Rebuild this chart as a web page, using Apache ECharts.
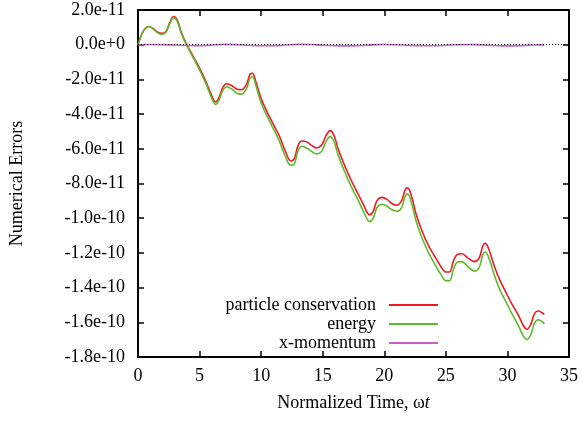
<!DOCTYPE html>
<html>
<head>
<meta charset="utf-8">
<script src="https://cdn.jsdelivr.net/npm/echarts@6/dist/echarts.min.js"></script>
<style>html,body{margin:0;padding:0;background:#fff}#c{width:581px;height:421px}</style>
</head>
<body>
<div id="c"></div>
<script>
// values in units of 1e-11
const UNIT = 1e-11;
const time = [0,0.3,0.6,0.9,1.2,1.6,2.0,2.3,2.6,2.9,3.2,3.5,4.0,4.5,5.0,5.5,6.0,6.3,6.6,6.9,7.2,7.6,8.0,8.4,8.8,9.1,9.3,9.6,10.0,10.5,11.0,11.5,12.0,12.4,12.7,13.0,13.3,13.7,14.1,14.5,14.9,15.3,15.6,15.9,16.3,16.8,17.3,17.8,18.3,18.8,19.1,19.4,19.8,20.2,20.6,21.0,21.4,21.7,21.9,22.2,22.6,23.1,23.6,24.1,24.6,25.0,25.3,25.6,25.9,26.3,26.8,27.3,27.7,28.0,28.2,28.5,28.9,29.4,29.9,30.4,30.9,31.3,31.6,31.9,32.2,32.5,32.8,33.0];
const particle = [0,0.6,0.95,1.05,0.95,0.72,0.65,0.8,1.3,1.62,1.4,0.75,-0.05,-0.7,-1.35,-2.1,-2.95,-3.3,-3.0,-2.45,-2.25,-2.35,-2.55,-2.6,-2.3,-1.7,-1.65,-2.2,-3.1,-3.9,-4.6,-5.3,-6.2,-6.7,-6.55,-5.8,-5.55,-5.6,-5.8,-5.95,-5.8,-5.2,-4.95,-5.2,-6.1,-7.0,-7.8,-8.5,-9.2,-9.8,-9.6,-9.0,-8.8,-8.9,-9.15,-9.25,-9.0,-8.35,-8.25,-8.7,-9.8,-10.8,-11.6,-12.2,-12.8,-13.1,-13.1,-12.5,-12.1,-12.05,-12.3,-12.5,-12.3,-11.6,-11.45,-11.8,-12.7,-13.6,-14.3,-15.0,-15.6,-16.2,-16.4,-16.1,-15.5,-15.35,-15.45,-15.55];
const energy = [0,0.6,0.95,1.05,0.93,0.68,0.6,0.75,1.25,1.55,1.33,0.68,-0.1,-0.78,-1.45,-2.22,-3.1,-3.45,-3.15,-2.62,-2.42,-2.55,-2.78,-2.85,-2.55,-1.92,-1.85,-2.42,-3.35,-4.15,-4.85,-5.6,-6.5,-6.95,-6.85,-6.1,-5.85,-5.95,-6.15,-6.3,-6.15,-5.55,-5.3,-5.55,-6.45,-7.35,-8.15,-8.85,-9.6,-10.2,-10.0,-9.4,-9.2,-9.3,-9.5,-9.6,-9.4,-8.72,-8.6,-9.1,-10.2,-11.2,-12.0,-12.65,-13.25,-13.6,-13.6,-13.0,-12.55,-12.5,-12.8,-13.05,-12.85,-12.1,-11.95,-12.3,-13.2,-14.15,-14.85,-15.55,-16.2,-16.8,-17.0,-16.7,-16.05,-15.85,-15.95,-16.1];
const momTime = [0,1,2,3,4,5,6,7,8,9,10,11,12,13,14,15,16,17,18,19,20,21,22,23,24,25,26,27,28,29,30,31,32,33];
const momentum = [0,0.01,0.0,-0.02,-0.05,-0.06,-0.02,0.02,0.0,-0.03,-0.06,-0.06,-0.02,0.02,0.01,-0.03,-0.06,-0.07,-0.05,-0.01,0.01,0.0,-0.04,-0.06,-0.06,-0.03,0.0,0.01,-0.02,-0.05,-0.07,-0.06,-0.02,-0.01];
const seriesNames = ['particle conservation','energy','x-momentum'];
const colors = ['#ee1a24','#5cbb2a','#c85ec8'];
const xTicks = {min:0,max:35,interval:5};
const yTicks = {min:-18,max:2,interval:2};

const font = 'Liberation Serif';
const pair = (xs, ys) => xs.map((x,i)=>[x, ys[i]]);
function fmtY(v){ const r = v*UNIT; return (Math.abs(r)<1e-20?0:r).toExponential(1); }

const axisLine = {show:true,onZero:false,lineStyle:{color:'#000',width:2}};
const tick = {show:true,inside:true,length:6,lineStyle:{color:'#000',width:1.5}};

const chart = echarts.init(document.getElementById('c'));
chart.setOption({
  animation:false,
  backgroundColor:'#fff',
  grid:{left:137,right:11,top:10,bottom:64,containLabel:false},
  legend:{
    orient:'vertical', align:'right', right:138, top:291,
    itemWidth:49, itemHeight:2, itemGap:1, icon:'rect',
    textStyle:{fontFamily:font,fontSize:18,color:'#000',lineHeight:18,padding:[0,8,0,0]},
    data:seriesNames
  },
  xAxis:[
    {type:'value',min:xTicks.min,max:xTicks.max,interval:xTicks.interval,position:'bottom',
     name:'{n|Normalized Time, ω}{i|t}',nameLocation:'middle',nameGap:37,
     nameTextStyle:{fontFamily:font,fontSize:18,color:'#000',
       rich:{n:{fontFamily:font,fontSize:18,color:'#000'},i:{fontFamily:font,fontSize:18,color:'#000',fontStyle:'italic'}}},
     axisLine:axisLine,axisTick:tick,splitLine:{show:false},
     axisLabel:{fontFamily:font,fontSize:18,color:'#000',margin:10}},
    {type:'value',min:xTicks.min,max:xTicks.max,interval:xTicks.interval,position:'top',
     axisLine:axisLine,axisTick:tick,splitLine:{show:false},axisLabel:{show:false}}
  ],
  yAxis:[
    {type:'value',min:yTicks.min,max:yTicks.max,interval:yTicks.interval,position:'left',
     name:'Numerical Errors',nameLocation:'middle',nameGap:112,
     nameTextStyle:{fontFamily:font,fontSize:18,color:'#000'},
     axisLine:axisLine,axisTick:tick,splitLine:{show:false},
     axisLabel:{fontFamily:font,fontSize:18,color:'#000',margin:13,formatter:fmtY}},
    {type:'value',min:yTicks.min,max:yTicks.max,interval:yTicks.interval,position:'right',
     axisLine:axisLine,axisTick:tick,splitLine:{show:false},axisLabel:{show:false}}
  ],
  series:[
    {name:seriesNames[0],type:'line',data:pair(time,particle),smooth:0.35,symbol:'none',
     lineStyle:{color:colors[0],width:1.6},itemStyle:{color:colors[0]}},
    {name:seriesNames[1],type:'line',data:pair(time,energy),smooth:0.35,symbol:'none',
     lineStyle:{color:colors[1],width:1.6},itemStyle:{color:colors[1]}},
    {name:seriesNames[2],type:'line',data:pair(momTime,momentum),smooth:0.35,symbol:'none',
     lineStyle:{color:colors[2],width:1.6},itemStyle:{color:colors[2]},
     markLine:{silent:true,symbol:'none',label:{show:false},
       lineStyle:{color:'#000',width:1,type:[1,2]},data:[{yAxis:0}]},
     z:1}
  ]
});
</script>
</body>
</html>
